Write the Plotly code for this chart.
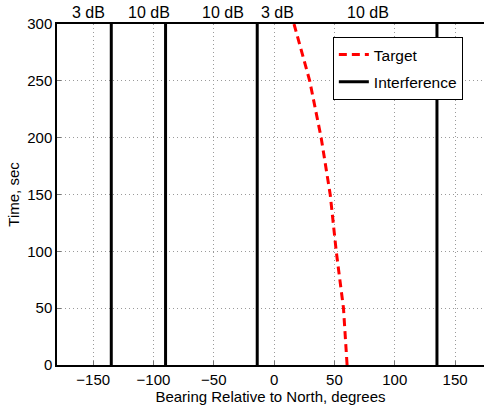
import plotly.graph_objects as go

# Data
target_time = [0, 50, 100, 150, 200, 250, 300]
target_bearing = [60.5, 57.5, 51.5, 46.5, 39, 29.5, 16.5]
interference_bearings = [-135, -90, -14, 135]
label_texts = ["3 dB", "10 dB", "10 dB", "3 dB", "10 dB"]
label_bearings = [-154, -104, -42, 3, 78]
x_ticks = [-150, -100, -50, 0, 50, 100, 150]
x_tick_text = ["\u2212150", "\u2212100", "\u221250", "0", "50", "100", "150"]
y_ticks = [0, 50, 100, 150, 200, 250, 300]

FONT = "Liberation Sans, Arial, sans-serif"

ix, iy = [], []
for b in interference_bearings:
    ix += [b, b, None]
    iy += [0, 300, None]

fig = go.Figure()
fig.add_trace(go.Scatter(x=target_bearing, y=target_time, mode="lines",
                         line=dict(color="#ff0000", width=3, dash="8px,5px"),
                         name="Target", legendgroup="a"))
fig.add_trace(go.Scatter(x=ix, y=iy, mode="lines",
                         line=dict(color="black", width=3),
                         name="Interference", legendgroup="b"))

for t, b in zip(label_texts, label_bearings):
    fig.add_annotation(x=b, y=1, xref="x", yref="paper", text=t, showarrow=False,
                       yanchor="bottom", yshift=1, font=dict(size=16, color="black", family=FONT))

axis_common = dict(showgrid=True, gridcolor="#9a9a9a", griddash="1px,3px", gridwidth=1,
                   zeroline=False, showline=True, linecolor="black", linewidth=1.5,
                   ticks="inside", ticklen=4, tickcolor="#777",
                   tickfont=dict(size=15, color="black", family=FONT))

fig.update_xaxes(range=[-180, 174], tickvals=x_ticks, ticktext=x_tick_text,
                 mirror=True,
                 title=dict(text="Bearing Relative to North, degrees", standoff=0,
                            font=dict(size=15, color="black", family=FONT)),
                 **axis_common)
fig.update_yaxes(range=[0, 300], tickvals=y_ticks,
                 title=dict(text="Time, sec", standoff=4,
                            font=dict(size=15, color="black", family=FONT)),
                 **axis_common)

fig.update_layout(
    width=484, height=407,
    margin=dict(l=57, r=0, t=24, b=42),
    plot_bgcolor="white", paper_bgcolor="white",
    font=dict(family=FONT, size=15, color="black"),
    legend=dict(x=0.646, y=0.962, xanchor="left", yanchor="top",
                bgcolor="white", bordercolor="black", borderwidth=1,
                traceorder="grouped", tracegroupgap=4,
                font=dict(size=15.5, color="black", family=FONT)),
)

fig.write_html("out.html")
